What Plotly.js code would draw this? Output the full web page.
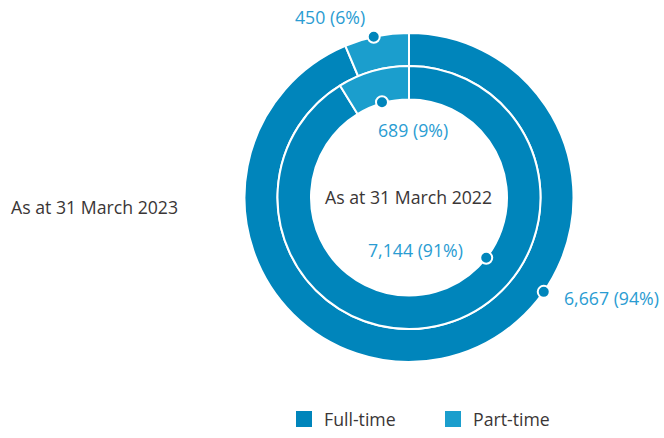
<!DOCTYPE html>
<html><head><meta charset="utf-8">
<script src="https://cdn.plot.ly/plotly-3.0.1.min.js"></script>
<style>html,body{margin:0;padding:0;background:#fff}#chart{width:664px;height:438px}</style>
</head><body><div id="chart"></div>
<script>
// ---- data ----
const categories = ["Full-time", "Part-time"];
const values2023 = [6667, 450];
const pct2023 = [94, 6];
const values2022 = [7144, 689];
const pct2022 = [91, 9];
const ringTitles = ["As at 31 March 2023", "As at 31 March 2022"];

// ---- style / geometry ----
const W = 664, H = 438;
const colors = ["#0085BB", "#1B9ECD"];
const labelColor = "#2A9CD2";
const textColor = "#3A3636";
const cx = 409, cy = 197.5;
const outerR = 164.5, outerHole = 131.5;
const innerR = 131.5, innerHole = 98;
const FONT = "Open Sans, Noto Sans, sans-serif";
const FS = 17.7;

function fmt(v){ return v.toLocaleString("en-US"); }
function px(x){ return x / W; }
function py(y){ return 1 - y / H; }

const traces = [
  {type:"pie", values: values2023, labels: categories, sort:false, direction:"clockwise", rotation:0,
   hole: outerHole/outerR, textinfo:"none", hoverinfo:"none", showlegend:false,
   marker:{colors: colors, line:{color:"#fff", width:2}},
   domain:{x:[px(cx-outerR), px(cx+outerR)], y:[py(cy+outerR), py(cy-outerR)]}},
  {type:"pie", values: values2022, labels: categories, sort:false, direction:"clockwise", rotation:0,
   hole: innerHole/innerR, textinfo:"none", hoverinfo:"none", showlegend:false,
   marker:{colors: colors, line:{color:"#fff", width:2}},
   domain:{x:[px(cx-innerR), px(cx+innerR)], y:[py(cy+innerR), py(cy-innerR)]}},
  // legend entries
  {type:"scatter", mode:"markers", x:[null], y:[null], name: categories[0],
   marker:{symbol:"square", size:16, color: colors[0]}, hoverinfo:"skip"},
  {type:"scatter", mode:"markers", x:[null], y:[null], name: categories[1],
   marker:{symbol:"square", size:16, color: colors[1]}, hoverinfo:"skip"}
];

// dot angles (degrees clockwise from 12 o'clock)
function midAngle(vals, i){
  const tot = vals.reduce((a,b)=>a+b,0);
  let before = 0; for(let k=0;k<i;k++) before += vals[k];
  return (before + vals[i]/2) / tot * 360;
}
const dots = [
  {ang: midAngle(values2023,1) - 1, r: outerR},
  {ang: midAngle(values2022,1), r: innerHole+1},
  {ang: 128, r: innerHole},
  {ang: 125, r: outerR}
];
const shapes = dots.map(d => {
  const a = d.ang * Math.PI/180;
  const x = cx + d.r*Math.sin(a), y = cy - d.r*Math.cos(a);
  return {type:"circle", xref:"paper", yref:"paper", layer:"above",
    x0: px(x-6), x1: px(x+6), y0: py(y+6), y1: py(y-6),
    fillcolor: colors[0], line:{color:"#fff", width:2}};
});

const lf = {family: FONT, size: FS, color: labelColor};
const annotations = [
  {text: fmt(values2023[1]) + " (" + pct2023[1] + "%)", x: px(330), y: py(17), xanchor:"center", yanchor:"middle", font: lf},
  {text: fmt(values2022[1]) + " (" + pct2022[1] + "%)", x: px(413), y: py(130), xanchor:"center", yanchor:"middle", font: lf},
  {text: fmt(values2022[0]) + " (" + pct2022[0] + "%)", x: px(415), y: py(250), xanchor:"center", yanchor:"middle", font: lf},
  {text: fmt(values2023[0]) + " (" + pct2023[0] + "%)", x: px(562), y: py(298), xanchor:"left", yanchor:"middle", font: lf},
  {text: ringTitles[1], x: px(408), y: py(197), xanchor:"center", yanchor:"middle", font:{family:FONT, size:FS, color:textColor}},
  {text: ringTitles[0], x: px(9), y: py(207), xanchor:"left", yanchor:"middle", font:{family:FONT, size:FS, color:textColor}}
].map(a => Object.assign({xref:"paper", yref:"paper", showarrow:false}, a));

const layout = {
  width: W, height: H,
  margin:{l:0, r:0, t:0, b:0},
  paper_bgcolor:"#fff", plot_bgcolor:"rgba(0,0,0,0)",
  xaxis:{visible:false, fixedrange:true},
  yaxis:{visible:false, fixedrange:true},
  showlegend:true,
  legend:{orientation:"h", x: px(284), y: 0, xanchor:"left", yanchor:"bottom",
    font:{family:FONT, size:FS, color:textColor}, itemwidth:30, entrywidth:104, tracegroupgap:0,
    borderwidth:0, bgcolor:"rgba(0,0,0,0)"},
  shapes: shapes,
  annotations: annotations
};

Plotly.newPlot("chart", traces, layout, {displayModeBar:false, staticPlot:true});
</script></body></html>
